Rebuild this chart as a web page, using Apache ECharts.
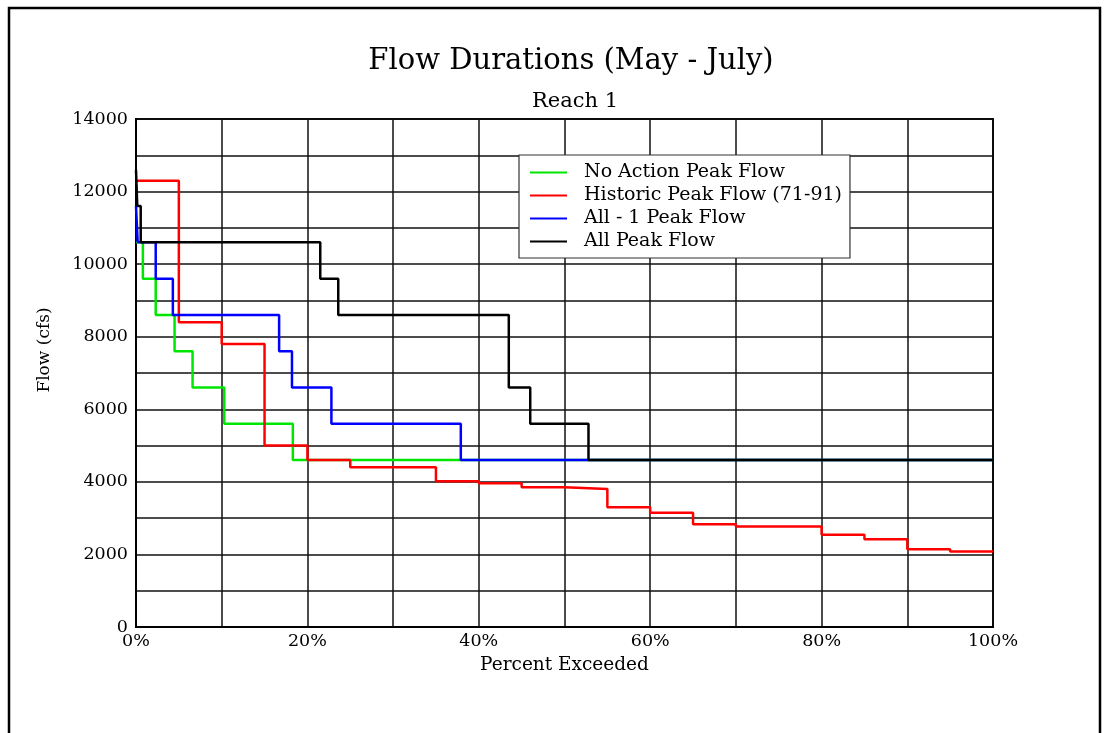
<!DOCTYPE html>
<html>
<head>
<meta charset="utf-8">
<title>Flow Durations (May - July)</title>
<script src="https://cdn.jsdelivr.net/npm/echarts@6/dist/echarts.min.js"></script>
<style>
  html, body { margin: 0; padding: 0; background: #ffffff; }
  #chart { width: 1106px; height: 733px; }
</style>
</head>
<body>
<div id="chart"></div>
<script>
// Flow-duration curves, Reach 1, May - July.
// Each series: percent of time exceeded (x) and flow in cfs (y);
// a flow holds from its percent up to the next percent.
const seriesNames = ['No Action Peak Flow', 'Historic Peak Flow (71-91)', 'All - 1 Peak Flow', 'All Peak Flow'];

const noActionPct  = [0, 0.8, 2.3, 4.5, 6.6, 10.3, 18.3, 100];
const noActionFlow = [10600, 9600, 8600, 7600, 6600, 5600, 4600, 4600];

const historicPct  = [0, 5, 10, 15, 20, 25, 35, 40, 45, 50, 55, 60, 65, 70, 80, 85, 90, 95, 100];
const historicFlow = [12300, 8400, 7800, 5000, 4600, 4400, 4020, 3960, 3850, 3800, 3300, 3150, 2830, 2770, 2540, 2420, 2140, 2080, 2080];

const allMinus1Pct  = [0, 0.2, 2.3, 4.3, 16.7, 18.2, 22.8, 37.9, 100];
const allMinus1Flow = [11600, 10600, 9600, 8600, 7600, 6600, 5600, 4600, 4600];

const allPct  = [0, 0.15, 0.55, 21.5, 23.6, 43.5, 46, 52.8, 100];
const allFlow = [12600, 11600, 10600, 9600, 8600, 6600, 5600, 4600, 4600];

const seriesColors = ['#00e600', '#ff0000', '#0000ff', '#000000'];

const yMax = 14000, yStep = 1000, yLabelStep = 2000;
const xMax = 100, xStep = 10, xLabelStep = 20;

function pairs(xs, ys) { return xs.map((x, i) => [x, ys[i]]); }

const serif = 'DejaVu Serif';

const chart = echarts.init(document.getElementById('chart'), null, { renderer: 'canvas' });

const curves = [
  pairs(noActionPct, noActionFlow),
  pairs(historicPct, historicFlow),
  pairs(allMinus1Pct, allMinus1Flow),
  pairs(allPct, allFlow)
];

chart.setOption({
  animation: false,
  backgroundColor: '#ffffff',
  title: [
    {
      text: 'Flow Durations (May - July)',
      left: 566, top: 42, textAlign: 'center',
      textStyle: { fontFamily: serif, fontSize: 29, fontWeight: 'normal', color: '#000' }
    },
    {
      text: 'Reach 1',
      left: 570, top: 86, textAlign: 'center',
      textStyle: { fontFamily: serif, fontSize: 21, fontWeight: 'normal', color: '#000' }
    }
  ],
  graphic: [
    {
      type: 'rect', silent: true, z: -1,
      shape: { x: 9, y: 8, width: 1091, height: 760 },
      style: { fill: null, stroke: '#000', lineWidth: 2.5 }
    },
    {
      type: 'text', silent: true,
      x: 45, y: 350, rotation: Math.PI / 2,
      style: {
        text: 'Flow (cfs)', fontFamily: serif, fontSize: 17, fill: '#000',
        align: 'center', verticalAlign: 'middle'
      }
    }
  ],
  legend: {
    orient: 'vertical',
    left: 519, top: 155,
    data: seriesNames,
    icon: 'rect',
    itemWidth: 37, itemHeight: 2,
    itemGap: 4,
    padding: [8, 8, 7, 11],
    backgroundColor: '#ffffff',
    borderColor: '#333',
    borderWidth: 1.2,
    borderRadius: 0,
    textStyle: {
      fontFamily: serif, fontSize: 19, color: '#000',
      lineHeight: 19, padding: [0, 0, 0, 12]
    }
  },
  grid: {
    left: 136, top: 119, right: 113, bottom: 106,
    show: true, borderColor: '#000', borderWidth: 2, backgroundColor: 'transparent'
  },
  xAxis: {
    type: 'value', min: 0, max: xMax, interval: xStep,
    name: 'Percent Exceeded', nameLocation: 'middle', nameGap: 29,
    nameTextStyle: { fontFamily: serif, fontSize: 18.5, color: '#000' },
    axisLine: { show: true, lineStyle: { color: '#000', width: 2 } },
    axisTick: { show: false },
    axisLabel: {
      fontFamily: serif, fontSize: 17.5, color: '#000', margin: 5,
      formatter: v => (v % xLabelStep === 0 ? v + '%' : '')
    },
    splitLine: { show: true, lineStyle: { color: '#111', width: 1.5 } }
  },
  yAxis: {
    type: 'value', min: 0, max: yMax, interval: yStep,
    axisLine: { show: true, lineStyle: { color: '#000', width: 2 } },
    axisTick: { show: false },
    axisLabel: {
      fontFamily: serif, fontSize: 17.5, color: '#000', margin: 8,
      formatter: v => (v % yLabelStep === 0 ? String(v) : '')
    },
    splitLine: { show: true, lineStyle: { color: '#111', width: 1.5 } }
  },
  series: curves.map((data, i) => ({
    name: seriesNames[i],
    type: 'line',
    step: 'end',
    data: data,
    symbol: 'none',
    color: seriesColors[i],
    lineStyle: { color: seriesColors[i], width: 2.5 },
    z: 3 + i
  }))
});
</script>
</body>
</html>
